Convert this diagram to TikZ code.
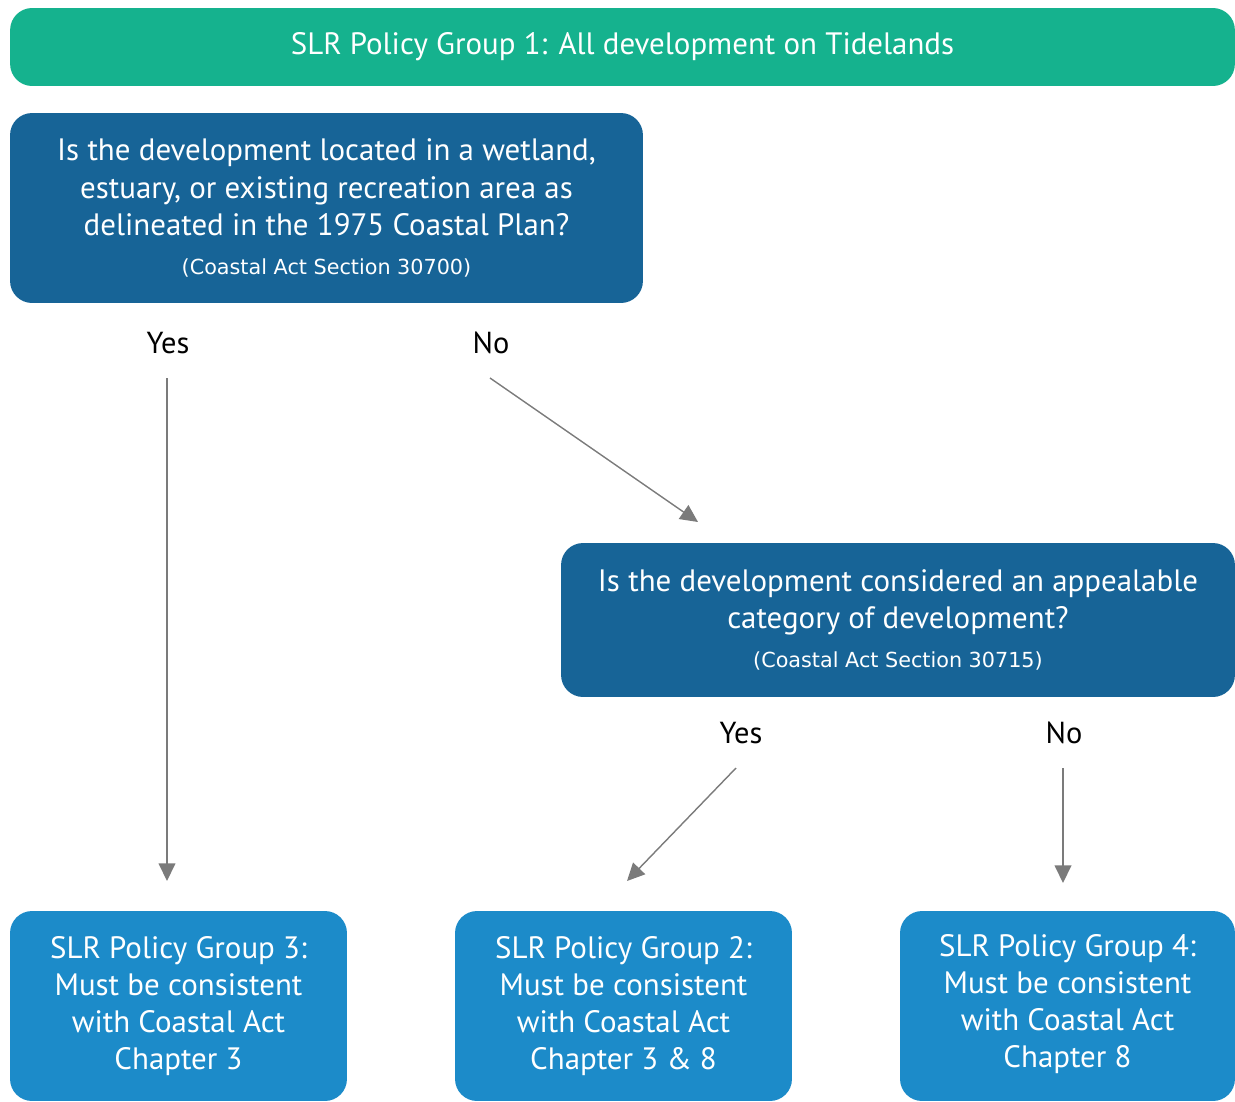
\documentclass[tikz,border=0pt]{standalone}
\usepackage{fontspec}
\setmainfont{PT Sans}
\newfontfamily\refont{DejaVu Sans}
\usetikzlibrary{arrows.meta}

\definecolor{topgreen}{HTML}{15B28E}
\definecolor{askblue}{HTML}{176497}
\definecolor{groupblue}{HTML}{1C8BC9}
\definecolor{arrowgray}{HTML}{7B7B7B}

\begin{document}
\begin{tikzpicture}[x=0.02cm,y=-0.02cm,
  box/.style={rounded corners=0.44cm, inner sep=0pt, align=center, text=white,
    font=\fontsize{17.6}{21.2}\selectfont},
  askbox/.style={box, fill=askblue},
  groupbox/.style={box, fill=groupblue, minimum width=6.74cm, minimum height=3.8cm},
  answer/.style={font=\fontsize{17.3}{20}\selectfont},
  flow/.style={draw=arrowgray, line width=0.8pt, -{Triangle[width=9.5pt,length=10pt]}}]
\useasboundingbox (0,0) rectangle (1235,1102);

% title
\node[box, fill=topgreen, minimum width=24.5cm, minimum height=1.56cm] (group1) at (622.5,47)
  {SLR Policy Group 1: All development on Tidelands};

% first question
\node[askbox, minimum width=12.66cm, minimum height=3.8cm] (ask1) at (326.5,208)
  {Is the development located in a wetland,\\
   estuary, or existing recreation area as\\
   delineated in the 1975 Coastal Plan?\\[1pt]
   {\refont\fontsize{11.8}{13}\selectfont (Coastal Act Section 30700)}};
\node[answer] (yes1) at (168,343) {Yes};
\node[answer] (no1) at (491,343) {No};

% second question
\node[askbox, minimum width=13.48cm, minimum height=3.08cm] (ask2) at (898,620)
  {Is the development considered an appealable\\
   category of development?\\[1pt]
   {\refont\fontsize{11.8}{13}\selectfont (Coastal Act Section 30715)}};
\node[answer] (yes2) at (741,733) {Yes};
\node[answer] (no2) at (1064,733) {No};

% groups
\node[groupbox] (group3) at (178.5,1006)
  {SLR Policy Group 3:\\ Must be consistent\\ with Coastal Act\\ Chapter 3};
\node[groupbox] (group2) at (623.5,1006)
  {SLR Policy Group 2:\\ Must be consistent\\ with Coastal Act\\ Chapter 3 \& 8};
\node[groupbox, minimum width=6.7cm] (group4) at (1067.5,1006)
  {SLR Policy Group 4:\\ Must be consistent\\ with Coastal Act\\ Chapter 8\\[-15.5pt]};

% arrows
\coordinate (yes1s) at (167,378);  \coordinate (yes1e) at (167,881);
\coordinate (no1s) at (490,378);   \coordinate (no1e) at (698,522);
\coordinate (yes2s) at (736,768);  \coordinate (yes2e) at (627,881);
\coordinate (no2s) at (1063,768);  \coordinate (no2e) at (1063,883);
\draw[flow] (yes1s) -- (yes1e);
\draw[flow] (no1s) -- (no1e);
\draw[flow] (yes2s) -- (yes2e);
\draw[flow] (no2s) -- (no2e);
\end{tikzpicture}
\end{document}
